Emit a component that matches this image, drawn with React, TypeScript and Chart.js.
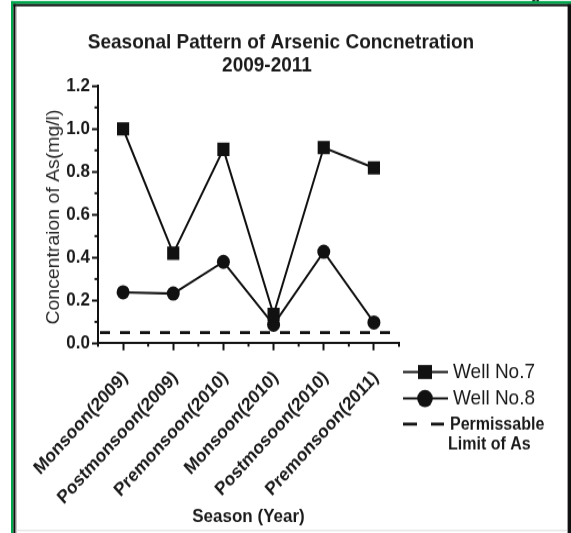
import React, { useEffect, useRef } from "react";
import { Chart, registerables } from "chart.js";

Chart.register(...registerables);

// ---- data ----
const categories = [
  "Monsoon(2009)",
  "Postmonsoon(2009)",
  "Premonsoon(2010)",
  "Monsoon(2010)",
  "Postmosoon(2010)",
  "Premonsoon(2011)",
];
const well7 = [1.0, 0.42, 0.905, 0.135, 0.913, 0.818];
const well8 = [0.238, 0.232, 0.38, 0.087, 0.427, 0.097];
const permissibleLimit = 0.05;
const yMin = 0;
const yMax = 1.2;
const yStep = 0.2;
const titleLines = ["Seasonal Pattern of Arsenic Concnetration", "2009-2011"];
const yTitle = "Concentraion of As(mg/l)";
const xTitle = "Season (Year)";
const seriesNames = ["Well No.7", "Well No.8"];
const limitLabel = ["Permissable", "Limit of As"];

// ---- layout helpers ----
const W = 571;
const H = 485;
const S = 533 / H; // vertical stretch of the reference picture
const Y = (ry: number) => ry / S;
const FONT = "'Liberation Sans', Arial, Helvetica, sans-serif";
const INK = "#111";

const decor = {
  id: "decor",
  afterDraw(chart: any) {
    const ctx: CanvasRenderingContext2D = chart.ctx;
    const { left, right, bottom } = chart.chartArea;
    const xs = chart.scales.x;
    const ys = chart.scales.y;
    ctx.save();

    // permissible limit dashed line
    const ly = ys.getPixelForValue(permissibleLimit);
    ctx.strokeStyle = INK;
    ctx.lineWidth = 2.6;
    ctx.setLineDash([10, 10]);
    ctx.beginPath();
    ctx.moveTo(left + 2, ly);
    ctx.lineTo(right, ly);
    ctx.stroke();
    ctx.setLineDash([]);

    // minor ticks
    ctx.lineWidth = 2;
    for (let i = 0; i <= categories.length; i++) {
      const px = xs.getPixelForValue(i - 0.5);
      ctx.beginPath();
      ctx.moveTo(px, bottom);
      ctx.lineTo(px, bottom + 3);
      ctx.stroke();
    }
    for (let v = yMin + yStep / 2; v < yMax; v += yStep) {
      const py = ys.getPixelForValue(v);
      ctx.beginPath();
      ctx.moveTo(left, py);
      ctx.lineTo(left - 3.5, py);
      ctx.stroke();
    }

    // title
    ctx.fillStyle = "#1a1a1a";
    ctx.textBaseline = "alphabetic";
    ctx.textAlign = "center";
    ctx.font = `bold 19px ${FONT}`;
    ctx.fillText(titleLines[0], 281, Y(48));
    ctx.fillText(titleLines[1], 267, Y(71.5));

    // y title
    ctx.save();
    ctx.translate(54, Y(217));
    ctx.rotate(-Math.PI / 2);
    ctx.font = `17.7px ${FONT}`;
    ctx.fillStyle = "#2a2a2a";
    ctx.textBaseline = "middle";
    ctx.fillText(yTitle, 0, 0);
    ctx.restore();

    // x title
    ctx.font = `bold 17px ${FONT}`;
    ctx.fillStyle = "#1a1a1a";
    ctx.fillText(xTitle, 248.5, Y(522.5));

    // legend
    const lx0 = 403, lx1 = 448, mx = 425;
    const rows = [Y(372), Y(398.5), Y(424)];
    ctx.strokeStyle = INK;
    ctx.fillStyle = INK;
    ctx.lineWidth = 2;
    for (let r = 0; r < 2; r++) {
      ctx.beginPath();
      ctx.moveTo(lx0, rows[r]);
      ctx.lineTo(lx1, rows[r]);
      ctx.stroke();
    }
    ctx.fillRect(mx - 7, rows[0] - 7 / S, 14, 14 / S);
    ctx.beginPath();
    ctx.arc(mx, rows[1], 7.8, 0, Math.PI * 2);
    ctx.fill();
    ctx.lineWidth = 2.8;
    ctx.beginPath();
    ctx.moveTo(403, rows[2]);
    ctx.lineTo(417, rows[2]);
    ctx.moveTo(431, rows[2]);
    ctx.lineTo(444, rows[2]);
    ctx.stroke();

    ctx.textAlign = "left";
    ctx.textBaseline = "middle";
    ctx.fillStyle = "#1a1a1a";
    ctx.font = `19px ${FONT}`;
    ctx.fillText(seriesNames[0], 453, rows[0]);
    ctx.fillText(seriesNames[1], 453, rows[1]);
    ctx.font = `bold 16px ${FONT}`;
    ctx.fillText(limitLabel[0], 450, Y(425));
    ctx.fillText(limitLabel[1], 448, Y(445));

    // clipped glyph from text above the frame (as in the source picture)
    ctx.textBaseline = "alphabetic";
    ctx.font = `bold 16px ${FONT}`;
    ctx.fillText("g", 531, Y(-1.2));

    // frame
    ctx.fillStyle = "#00a84f";
    ctx.fillRect(11, Y(1), W - 11, Y(3));
    ctx.fillRect(11, Y(1), 2.4, H);
    ctx.fillStyle = "#111";
    ctx.fillRect(13.4, Y(4), 2.2, H);
    ctx.fillRect(13.4, Y(4), W - 13.4, Y(2.3));
    ctx.fillRect(567.6, Y(4), 3.4, H);
    ctx.fillStyle = "#a0a0a0";
    ctx.fillRect(15.6, Y(6.3), 1, H);
    ctx.fillStyle = "#dcdcdc";
    ctx.fillRect(16, Y(530), 551, 1);

    ctx.restore();
  },
};

export default function App() {
  const ref = useRef<HTMLCanvasElement | null>(null);

  useEffect(() => {
    if (!ref.current) return;
    document.body.style.overflow = "hidden";
    Chart.defaults.font.family = FONT;
    Chart.defaults.color = INK;
    const chart = new Chart(ref.current, {
      type: "line",
      data: {
        labels: categories,
        datasets: [
          {
            label: seriesNames[0],
            data: well7,
            borderColor: INK,
            backgroundColor: INK,
            borderWidth: 2,
            pointStyle: "rect",
            pointRadius: 8.6,
            pointBackgroundColor: INK,
            pointBorderColor: INK,
            pointBorderWidth: 0,
            tension: 0,
          },
          {
            label: seriesNames[1],
            data: well8,
            borderColor: INK,
            backgroundColor: INK,
            borderWidth: 2,
            pointStyle: "circle",
            pointRadius: 6.5,
            pointBackgroundColor: INK,
            pointBorderColor: INK,
            pointBorderWidth: 0,
            tension: 0,
          },
        ],
      },
      options: {
        responsive: false,
        animation: false,
        events: [],
        layout: { padding: { left: 0, right: W - 399, top: Y(86), bottom: 0 } },
        plugins: {
          legend: { display: false },
          title: { display: false },
          tooltip: { enabled: false },
        },
        scales: {
          x: {
            type: "category",
            offset: true,
            grid: {
              display: true,
              offset: false,
              drawOnChartArea: false,
              drawTicks: true,
              tickLength: Y(7),
              tickColor: INK,
              tickWidth: 2,
              color: "rgba(0,0,0,0)",
            },
            border: { display: true, color: INK, width: 2 },
            ticks: {
              autoSkip: false,
              maxRotation: 45,
              minRotation: 45,
              padding: 15,
              labelOffset: 2,
              color: "#1a1a1a",
              font: { size: 17, weight: "bold", family: FONT },
            },
            afterFit: (s: any) => {
              s.height = H - Y(343.3);
            },
          },
          y: {
            type: "linear",
            min: yMin,
            max: yMax,
            grid: {
              display: true,
              drawOnChartArea: false,
              drawTicks: true,
              tickLength: 6,
              tickColor: INK,
              tickWidth: 2,
              color: "rgba(0,0,0,0)",
            },
            border: { display: true, color: INK, width: 2 },
            ticks: {
              stepSize: yStep,
              padding: 2,
              color: "#1a1a1a",
              font: { size: 17, weight: "bold", family: FONT },
              callback: (v: any) => Number(v).toFixed(1),
            },
            afterFit: (s: any) => {
              s.width = 98;
            },
          },
        },
      },
      plugins: [decor],
    });
    return () => chart.destroy();
  }, []);

  return (
    <div
      style={{
        position: "absolute",
        left: 0,
        top: 0,
        width: W,
        height: H,
        transform: `scale(1, ${S})`,
        transformOrigin: "0 0",
      }}
    >
      <canvas ref={ref} width={W} height={H} style={{ display: "block" }} />
    </div>
  );
}
